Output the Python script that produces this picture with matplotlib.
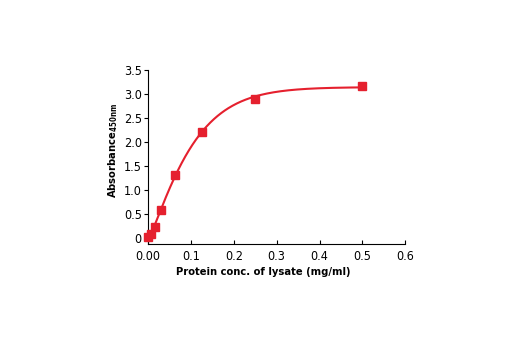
import numpy as np
import matplotlib.pyplot as plt

plt.rcParams['font.family'] = ['DejaVu Sans']
plt.rcParams['font.stretch'] = 'condensed'
plt.rcParams['mathtext.fontset'] = 'custom'
plt.rcParams['mathtext.bf'] = 'DejaVu Sans:bold'

# protein concentration of lysate (mg/ml) and absorbance at 450 nm
conc = [0.0, 0.0078, 0.0156, 0.03125, 0.0625, 0.125, 0.25, 0.5]
absorb = [0.02, 0.09, 0.24, 0.6, 1.32, 2.22, 2.9, 3.17]

xticks = [0, 0.1, 0.2, 0.3, 0.4, 0.5, 0.6]
xticklabels = ['0.00', '0.1', '0.2', '0.3', '0.4', '0.5', '0.6']
yticks = [0, 0.5, 1.0, 1.5, 2.0, 2.5, 3.0, 3.5]
yticklabels = ['0', '0.5', '1.0', '1.5', '2.0', '2.5', '3.0', '3.5']

red = '#e5202e'

# saturation curve y = b + t*(1 - exp(-(x/s)^m)), grid search on s and m
x = np.array(conc)
y = np.array(absorb)
best = None
for s in np.linspace(0.05, 0.2, 151):
    for m in np.linspace(0.8, 2.0, 61):
        f = 1 - np.exp(-(x / s) ** m)
        A = np.vstack([np.ones_like(f), f]).T
        coef = np.linalg.lstsq(A, y, rcond=None)[0]
        err = np.sum((A @ coef - y) ** 2)
        if best is None or err < best[0]:
            best = (err, s, m, coef)
_, s, m, (b, t) = best
xs = np.linspace(0, 0.5, 300)
ys = b + t * (1 - np.exp(-(xs / s) ** m))

fig = plt.figure(figsize=(5.2, 3.5), dpi=100)
ax = fig.add_axes([0.2846, 0.303, 0.7794 - 0.2846, 0.8 - 0.303])

ax.plot(xs, ys, color=red, lw=1.5, zorder=3)
ax.plot(conc, absorb, 's', color=red, ms=5.5, zorder=4, clip_on=False)

ax.set_xlim(0, 0.6)
ax.set_ylim(-0.115, 3.5)
ax.set_xticks(xticks)
ax.set_xticklabels(xticklabels)
ax.set_yticks(yticks)
ax.set_yticklabels(yticklabels)

for side in ['top', 'right']:
    ax.spines[side].set_visible(False)
for side in ['left', 'bottom']:
    ax.spines[side].set_linewidth(0.8)
ax.tick_params(axis='y', direction='out', length=3, width=0.8, labelsize=9, pad=1.5)
ax.tick_params(axis='x', direction='in', length=3, width=0.8, labelsize=9, pad=4)

ax.set_xlabel('Protein conc. of lysate (mg/ml)', fontsize=8, fontweight='bold')
ax.set_ylabel(r'Absorbance$_{\mathbf{450nm}}$', fontsize=8, fontweight='bold')
ax.xaxis.set_label_coords(0.449, -0.135)
ax.yaxis.set_label_coords(-0.11, 0.537)

fig.savefig('out.png', dpi=100)
